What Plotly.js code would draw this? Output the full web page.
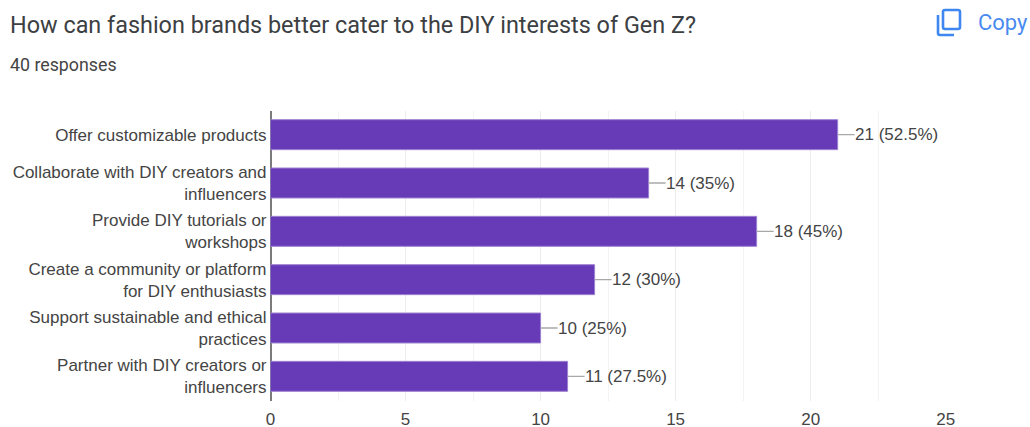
<!DOCTYPE html>
<html>
<head>
<meta charset="utf-8">
<script src="https://cdn.plot.ly/plotly-3.0.0.min.js"></script>
<style>html,body{margin:0;padding:0;background:#fff}#chart{width:1030px;height:427px}</style>
</head>
<body>
<div id="chart"></div>
<script>
const categories = [
  "Offer customizable products",
  "Collaborate with DIY creators and<br>influencers",
  "Provide DIY tutorials or<br>workshops",
  "Create a community or platform<br>for DIY enthusiasts",
  "Support sustainable and ethical<br>practices",
  "Partner with DIY creators or<br>influencers"
];
const counts = [21, 14, 18, 12, 10, 11];
const shares = ["52.5%", "35%", "45%", "30%", "25%", "27.5%"];
const titleText = "How can fashion brands better cater to the DIY interests of Gen Z?";
const subtitleText = "40 responses";
const copyText = "Copy";

const W = 1030, H = 427;
const px = v => v / W, py = v => 1 - v / H;
const leader = 0.63;
const labels = counts.map((c, i) => c + " (" + shares[i] + ")");
const axisFont = {family: "Liberation Sans, Arial, sans-serif", size: 17, color: "#444"};

const bars = {
  type: "bar", orientation: "h", y: categories, x: counts,
  marker: {color: "#673ab7", line: {color: "#9c80d2", width: 1}},
  width: 0.62,
  error_x: {type: "data", symmetric: false, array: counts.map(() => leader), arrayminus: counts.map(() => 0),
            color: "#a8a8a8", thickness: 1.3, width: 0},
  hoverinfo: "skip", cliponaxis: false
};
const valueLabels = counts.map((c, i) => ({
  text: labels[i], xref: "x", yref: "y", x: c + leader, y: categories[i],
  xanchor: "left", yanchor: "middle", xshift: -2, yshift: 0, showarrow: false, font: axisFont
}));
const iconColor = "#3f87f0";
const layout = {
  width: W, height: H, showlegend: false, paper_bgcolor: "#fff", plot_bgcolor: "#fff",
  margin: {l: 0, r: 0, t: 0, b: 0, autoexpand: false},
  xaxis: {
    domain: [px(270.5), px(945.7)], range: [0, 25], dtick: 5, tick0: 0,
    showgrid: true, gridcolor: "#ececec", gridwidth: 1,
    minor: {dtick: 2.5, showgrid: true, gridcolor: "#f3f3f3", gridwidth: 1, ticks: ""},
    zeroline: true, zerolinecolor: "#7b7b7b", zerolinewidth: 2, showline: false, ticks: "",
    ticklen: 0, ticklabelstandoff: 6, tickfont: axisFont,
    anchor: "y"
  },
  yaxis: {
    domain: [py(400.5), py(110.5)], autorange: false, range: [5.5, -0.5], type: "category",
    categoryorder: "array", categoryarray: categories,
    showgrid: false, zeroline: false, showline: false, ticks: "", ticklen: 0,
    ticklabelstandoff: 3, tickfont: axisFont,
    anchor: "x"
  },
  annotations: [
    {text: titleText, xref: "paper", yref: "paper", x: px(8), y: py(25), xanchor: "left", yanchor: "middle",
     showarrow: false, align: "left", font: {family: "Roboto, sans-serif", size: 23.4, color: "#3c4043"}},
    {text: subtitleText, xref: "paper", yref: "paper", x: px(8), y: py(65), xanchor: "left", yanchor: "middle",
     showarrow: false, font: {family: "Roboto, sans-serif", size: 17.8, color: "#444"}},
    {text: copyText, xref: "paper", yref: "paper", x: px(976), y: py(22), xanchor: "left", yanchor: "middle",
     showarrow: false, font: {family: "Roboto, sans-serif", size: 22, color: "#4a8af0"}}
  ].concat(valueLabels),
  shapes: [
    {type: "path", xref: "paper", yref: "paper",
     path: `M ${px(945)} ${py(10)} L ${px(958)} ${py(10)} Q ${px(960)} ${py(10)} ${px(960)} ${py(12)} L ${px(960)} ${py(27)} Q ${px(960)} ${py(29)} ${px(958)} ${py(29)} L ${px(945)} ${py(29)} Q ${px(943)} ${py(29)} ${px(943)} ${py(27)} L ${px(943)} ${py(12)} Q ${px(943)} ${py(10)} ${px(945)} ${py(10)} Z`,
     line: {color: iconColor, width: 2.6}},
    {type: "path", xref: "paper", yref: "paper",
     path: `M ${px(938)} ${py(15)} L ${px(938)} ${py(33)} Q ${px(938)} ${py(35)} ${px(940)} ${py(35)} L ${px(954)} ${py(35)}`,
     line: {color: iconColor, width: 2.6}}
  ]
};
Plotly.newPlot("chart", [bars], layout, {displayModeBar: false, staticPlot: true});
</script>
</body>
</html>
